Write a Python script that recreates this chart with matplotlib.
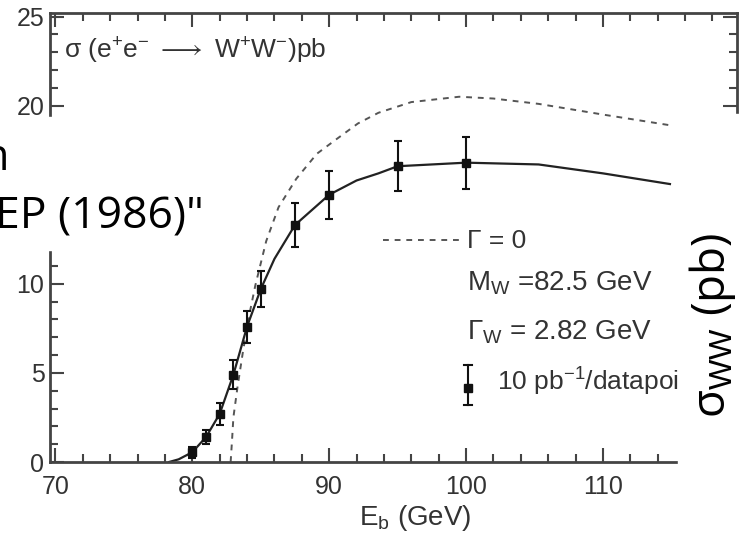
import matplotlib
matplotlib.use("Agg")
import matplotlib.pyplot as plt
from matplotlib.patches import Rectangle
from matplotlib.lines import Line2D
from matplotlib.ticker import MultipleLocator, FuncFormatter

plt.rcParams['font.family'] = ['Liberation Sans', 'DejaVu Sans']
plt.rcParams['mathtext.fontset'] = 'custom'
plt.rcParams['mathtext.rm'] = 'Liberation Sans'
plt.rcParams['mathtext.it'] = 'Liberation Sans:italic'

# measured points (beam energy in GeV, cross section in pb)
e_data = [80, 81, 82, 83, 84, 85, 87.5, 90, 95, 100]
s_data = [0.55, 1.4, 2.7, 4.9, 7.6, 9.7, 13.3, 15.0, 16.6, 16.8]
s_err = [0.3, 0.4, 0.6, 0.8, 0.9, 1.0, 1.25, 1.35, 1.4, 1.45]

# finite width curve
e_fit = [78.3, 79, 80, 81, 82, 83, 84, 85, 86, 87.5, 90, 92, 93.6, 95, 100,
         105.3, 110, 114.9]
s_fit = [0, 0.15, 0.55, 1.4, 2.7, 4.9, 7.6, 9.7, 11.4, 13.3, 15.0, 15.8, 16.2,
         16.6, 16.8, 16.7, 16.2, 15.6]

# zero width curve
e_zero = [82.8, 82.9, 83.0, 83.3, 83.7, 84.2, 84.6, 85.4, 86.3, 87.6, 89.1,
          90.5, 92.1, 93.6, 96, 99.5, 102, 105.3, 110, 114.9]
s_zero = [0, 1.2, 2.5, 4.2, 6.2, 8.4, 9.9, 12.4, 14.3, 15.9, 17.3, 18.1, 19.0,
          19.6, 20.2, 20.5, 20.4, 20.1, 19.5, 18.9]

W, H = 740, 536


def fx(x):
    return x / W


def fy(y):
    return 1 - y / H


fig = plt.figure(figsize=(7.4, 5.36), dpi=100)
ax = fig.add_axes([fx(50), fy(462), fx(737) - fx(50), fy(13) - fy(462)])

ink = '#333333'
ax.plot(e_zero, s_zero, color='#555555', lw=1.4, ls=(0, (3, 3)))
ax.plot(e_fit, s_fit, color='#222222', lw=1.6)
ax.errorbar(e_data, s_data, yerr=s_err, fmt='s', color='#111111', ms=6,
            elinewidth=1.5, capsize=3, capthick=1.5)

ax.set_xlim(69.6, 119.8)
ax.set_ylim(0, 25.2)
ax.xaxis.set_major_locator(MultipleLocator(10))
ax.xaxis.set_minor_locator(MultipleLocator(2))
ax.yaxis.set_major_locator(MultipleLocator(5))
ax.yaxis.set_minor_locator(MultipleLocator(1))
# the 15 label sits under the slide text in the original
ax.yaxis.set_major_formatter(FuncFormatter(lambda v, p: '' if v == 15 else f'{v:.0f}'))
ax.tick_params(which='both', direction='in', top=True, right=True,
               color='#444444', width=1.5, labelsize=18, labelcolor=ink)
ax.tick_params(which='major', length=10)
ax.tick_params(which='minor', length=6)
ax.tick_params(axis='x', pad=9)
ax.tick_params(axis='y', pad=4)
for sp in ax.spines.values():
    sp.set_linewidth(2)
    sp.set_color('#444444')

ax.text(0.02, 0.915, 'σ (e$^{+}$e$^{-}$ $\\longrightarrow$ W$^{+}$W$^{-}$)pb',
        transform=ax.transAxes, fontsize=19, color=ink, va='center')

fig.text(fx(415), fy(518), 'E$_{\\mathrm{b}}$ (GeV)', fontsize=20, color=ink,
         ha='center', va='center')

# legend block
fig.add_artist(Line2D([fx(383), fx(460)], [fy(240), fy(240)], color='#555555',
                      lw=1.4, ls=(0, (3, 3))))
fig.text(fx(467), fy(241), 'Γ = 0', fontsize=19, color=ink, va='center')
fig.text(fx(467), fy(283), 'M$_{\\mathrm{W}}$ =82.5 GeV', fontsize=20, color=ink,
         va='center')
fig.text(fx(467), fy(332), 'Γ$_{\\mathrm{W}}$ = 2.82 GeV', fontsize=20, color=ink,
         va='center')
fig.add_artist(Line2D([fx(468), fx(468)], [fy(365), fy(405)], color='#111111', lw=1.5))
fig.add_artist(Line2D([fx(464), fx(472)], [fy(365), fy(365)], color='#111111', lw=1.5))
fig.add_artist(Line2D([fx(464), fx(472)], [fy(405), fy(405)], color='#111111', lw=1.5))
fig.add_artist(Line2D([fx(468)], [fy(388)], marker='s', ms=6, color='#111111'))
fig.text(fx(497), fy(382), '10 pb$^{-1}$/datapoint', fontsize=19, color=ink,
         va='center')

# slide overlays
fig.add_artist(Rectangle((0, fy(250)), fx(243), fy(117) - fy(250),
                         transform=fig.transFigure, color='white', zorder=5))
fig.add_artist(Rectangle((fx(678), 0), 1 - fx(678), fy(114),
                         transform=fig.transFigure, color='white', zorder=5))

slide_font = ['Open Sans', 'DejaVu Sans']
fig.text(fx(-18), fy(170), 'n', fontsize=31, family=slide_font, color='black',
         va='baseline', zorder=6)
fig.text(fx(204), fy(228), 'EP (1986)"', fontsize=32, family=slide_font,
         color='black', ha='right', va='baseline', zorder=6)
fig.text(fx(713), fy(325), 'σ$_{\\mathrm{WW}}$ (pb)', fontsize=33,
         family=slide_font, color='black', rotation=90, ha='center',
         va='center', zorder=6)

fig.savefig('out.png', dpi=100)
